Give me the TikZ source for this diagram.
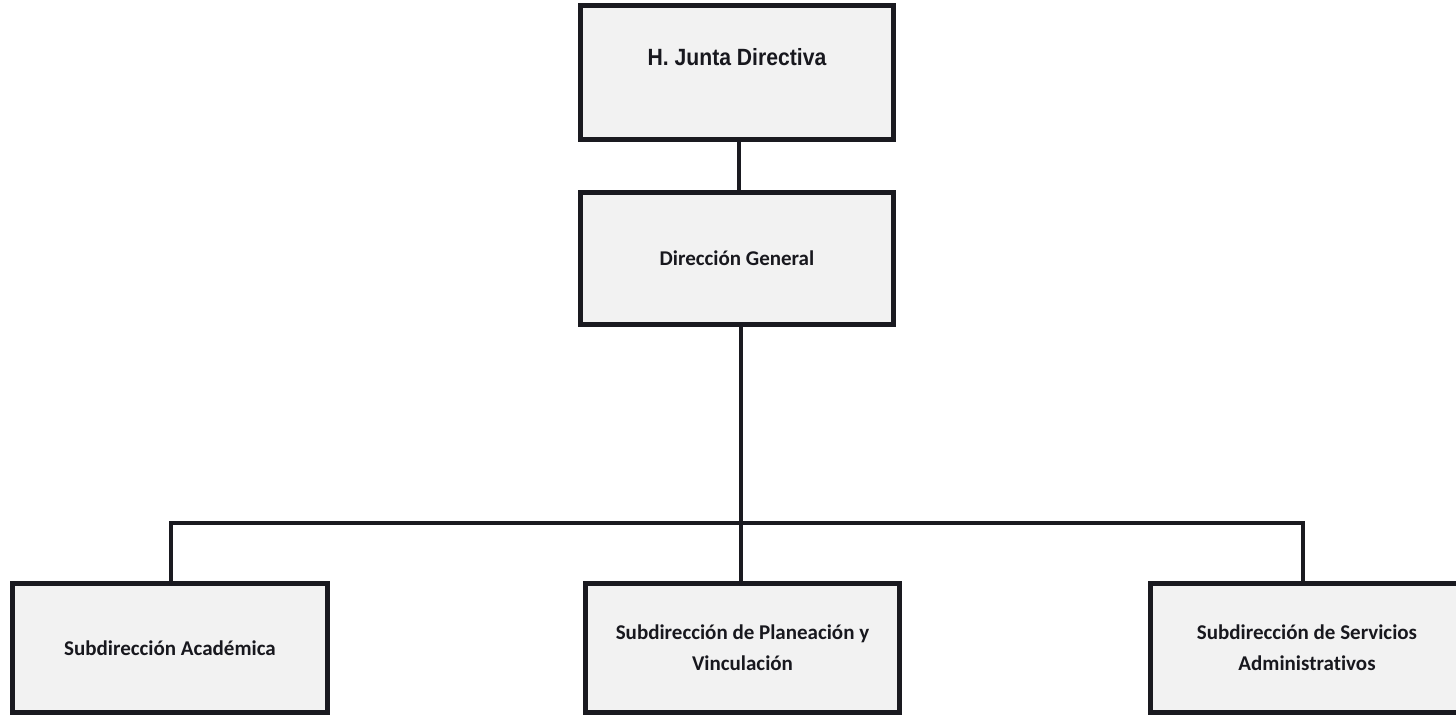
\documentclass[tikz,border=0pt]{standalone}
\usepackage{fontspec}
\setmainfont{Carlito}[Ligatures=NoCommon]
\newfontfamily\juntafont[FakeStretch=0.9]{Liberation Sans}

\definecolor{boxline}{RGB}{26,26,32}
\definecolor{boxfill}{RGB}{242,242,242}
\definecolor{ink}{RGB}{24,24,30}

\tikzset{
  orgbox/.style={draw=boxline, fill=boxfill, line width=5pt, inner sep=0pt,
    text=ink, align=center, font=\bfseries\fontsize{21}{31}\selectfont},
  boxtext/.style={text=ink, inner sep=0pt},
  link/.style={draw=boxline, line width=4pt}
}

\begin{document}
\begin{tikzpicture}[x=1pt, y=-1pt]
  \useasboundingbox (0,0) rectangle (1456,715);

  % upper levels
  \node[orgbox, minimum width=313pt, minimum height=134pt] (junta) at (736.5,72.5) {};
  \node[boxtext, anchor=base, font=\juntafont\bfseries\fontsize{23.5}{28}\selectfont]
    (juntatxt) at (737,65) {H. Junta Directiva};
  \node[orgbox, minimum width=313pt, minimum height=132pt] (dg) at (737,258.5) {Dirección General};

  % subdirections
  \node[orgbox, minimum width=315pt, minimum height=129pt] (acad) at (170,648) {Subdirección Académica};
  \node[orgbox, minimum width=314pt, minimum height=129pt] (plan) at (742.5,648)
    {Subdirección de Planeación y\\Vinculación};
  \node[orgbox, minimum width=314pt, minimum height=129pt] (serv) at (1307,648)
    {Subdirección de Servicios\\Administrativos};

  % connectors
  \coordinate (bus) at (741,522.5);
  \draw[link] (junta.south -| 739,0) -- (dg.north -| 739,0);
  \draw[link] (dg.south -| 741,0) -- (plan.north -| 741,0);
  \draw[link] (acad.north -| 170.5,0) -- (bus -| 170.5,0) -- (bus -| 1303,0) -- (serv.north -| 1303,0);
\end{tikzpicture}
\end{document}
